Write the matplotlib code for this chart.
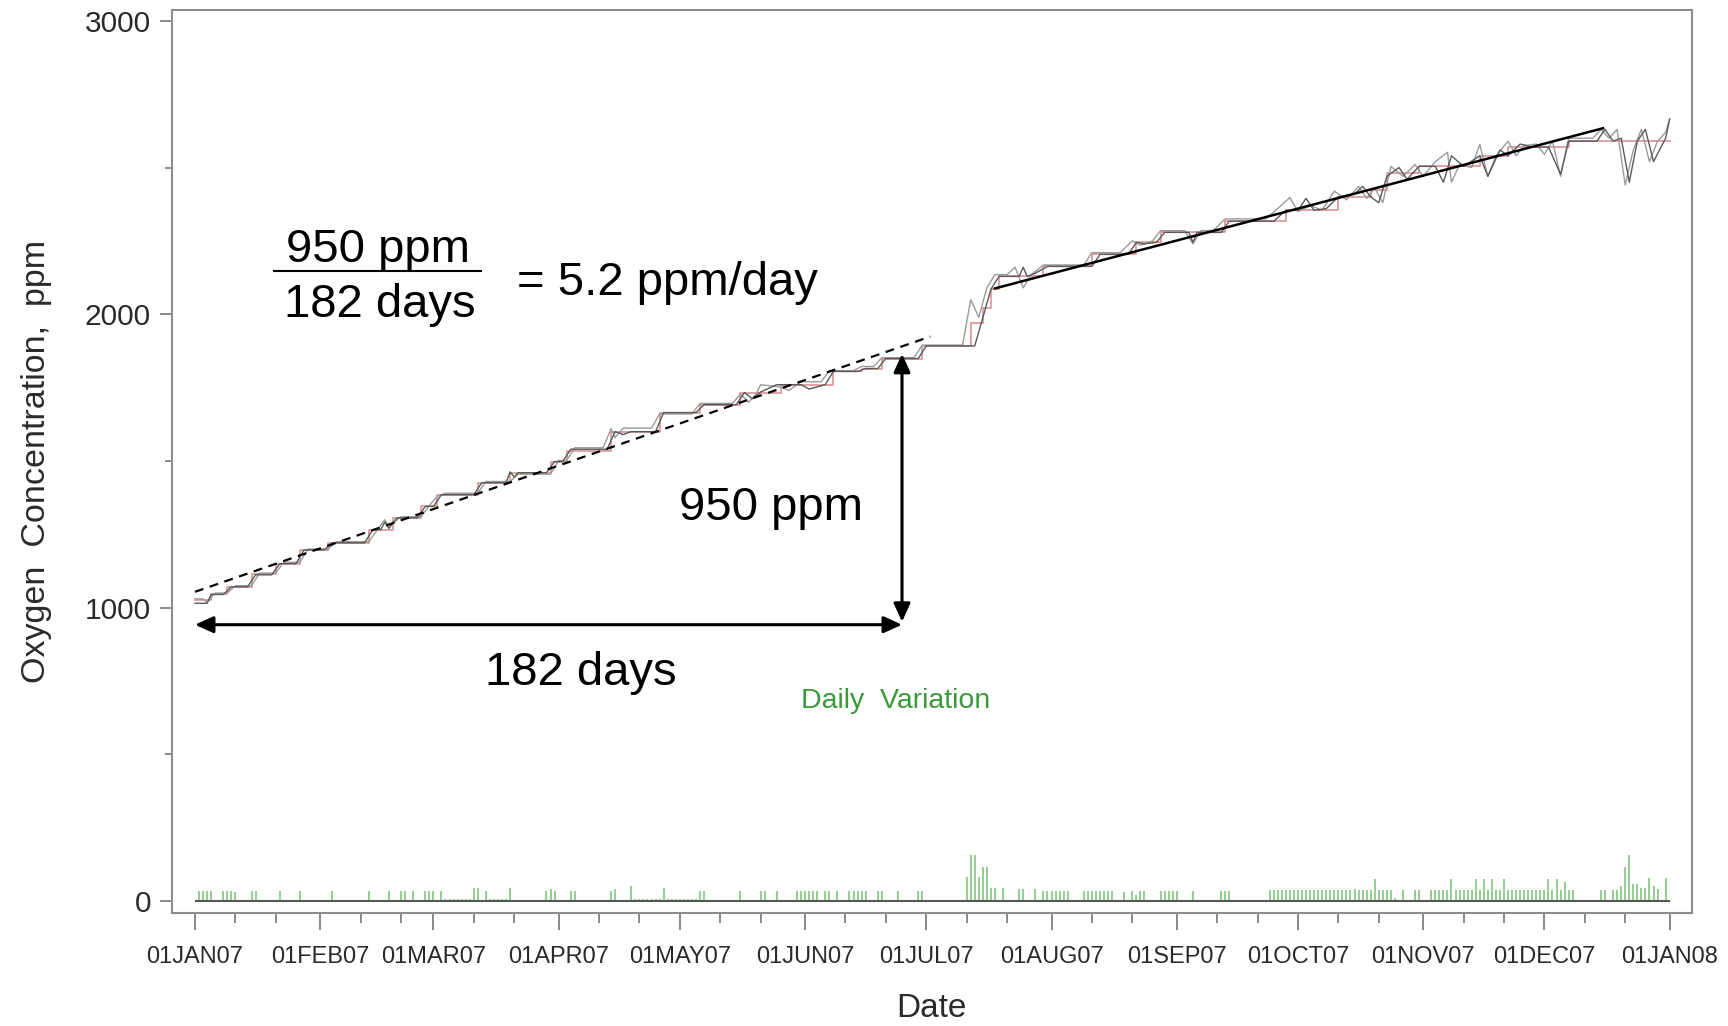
import matplotlib
matplotlib.use('Agg')
import matplotlib.pyplot as plt

# x axis: days since 01JAN07
month_starts = [0, 31, 59, 90, 120, 151, 181, 212, 243, 273, 304, 334, 365]
month_labels = ['01JAN07', '01FEB07', '01MAR07', '01APR07', '01MAY07', '01JUN07', '01JUL07',
                '01AUG07', '01SEP07', '01OCT07', '01NOV07', '01DEC07', '01JAN08']

# red series (stepped)
red_days = [0, 4, 8, 14, 20, 26, 33, 43, 49, 56, 60, 70, 78, 88, 92, 103, 115, 125, 135, 145,
            158, 165, 170, 180, 192, 195, 197, 199, 210, 222, 233, 239, 255, 270, 283, 291,
            295, 303, 318, 325, 340, 365]
red_ppm = [1025, 1047, 1071, 1115, 1150, 1197, 1221, 1266, 1306, 1345, 1385, 1426, 1460, 1498,
           1535, 1600, 1665, 1692, 1733, 1760, 1805, 1815, 1849, 1892, 1970, 2020, 2085, 2129,
           2163, 2204, 2245, 2279, 2317, 2354, 2400, 2425, 2480, 2504, 2540, 2570, 2590, 2590]

# dark grey series
black_days = [0, 3, 4, 7, 9, 13, 15, 19, 21, 25, 27, 32, 34, 42, 44, 46, 47, 48, 50, 55, 57, 59,
              61, 69, 71, 77, 78, 79, 80, 87, 89, 91, 93, 102, 104, 106, 108, 114, 116, 124, 126,
              134, 136, 138, 140, 144, 150, 152, 156, 158, 164, 166, 169, 171, 179, 181, 193,
              197, 199, 204, 205, 206, 208, 211, 222, 224, 231, 233, 235, 238, 240, 246, 247,
              248, 254, 256, 267, 270, 273, 275, 277, 280, 283, 287, 289, 291, 293, 295, 298,
              300, 303, 307, 309, 311, 314, 318, 320, 323, 325, 328, 331, 335, 338, 340, 347,
              349, 351, 353, 355, 357, 359, 361, 364, 365]
black_ppm = [1015, 1015, 1045, 1045, 1071, 1071, 1112, 1112, 1150, 1150, 1197, 1197, 1221, 1221,
             1266, 1266, 1292, 1270, 1306, 1306, 1345, 1345, 1385, 1385, 1426, 1426, 1463, 1445,
             1460, 1460, 1498, 1498, 1540, 1540, 1600, 1590, 1600, 1600, 1665, 1665, 1692, 1692,
             1733, 1712, 1735, 1760, 1760, 1745, 1760, 1805, 1805, 1815, 1815, 1849, 1849, 1892,
             1892, 2085, 2129, 2129, 2160, 2129, 2140, 2163, 2163, 2204, 2204, 2245, 2240, 2245,
             2279, 2279, 2245, 2279, 2279, 2317, 2317, 2354, 2354, 2395, 2354, 2360, 2400, 2410,
             2436, 2400, 2380, 2470, 2500, 2460, 2504, 2504, 2450, 2540, 2504, 2540, 2470, 2560,
             2540, 2580, 2570, 2570, 2477, 2590, 2590, 2630, 2590, 2600, 2450, 2590, 2630, 2520,
             2600, 2665]

# light grey series
grey_days = [0, 2, 3, 5, 8, 10, 14, 16, 20, 22, 26, 28, 33, 35, 43, 45, 47, 48, 49, 51, 56, 58,
             60, 62, 70, 72, 78, 80, 88, 90, 92, 94, 101, 103, 104, 106, 113, 115, 123, 125, 133,
             135, 137, 139, 140, 145, 147, 150, 155, 157, 163, 165, 168, 170, 178, 180, 190, 192,
             194, 196, 198, 201, 203, 205, 207, 210, 220, 222, 229, 232, 234, 237, 239, 245, 247,
             249, 252, 255, 265, 268, 271, 273, 276, 279, 282, 285, 288, 290, 292, 294, 296, 299,
             302, 304, 307, 310, 311, 313, 316, 318, 320, 322, 325, 327, 329, 332, 334, 336, 338,
             340, 346, 348, 350, 352, 354, 356, 358, 360, 362, 364, 365]
grey_ppm = [1030, 1030, 1018, 1050, 1050, 1075, 1075, 1118, 1118, 1155, 1155, 1200, 1200, 1225,
            1225, 1262, 1300, 1275, 1288, 1310, 1310, 1348, 1380, 1390, 1390, 1430, 1430, 1455,
            1455, 1502, 1502, 1545, 1545, 1610, 1580, 1612, 1612, 1660, 1660, 1696, 1696, 1728,
            1700, 1730, 1760, 1752, 1740, 1770, 1770, 1808, 1808, 1822, 1822, 1852, 1852, 1895,
            1895, 2050, 1990, 2090, 2135, 2135, 2160, 2090, 2135, 2168, 2168, 2210, 2210, 2250,
            2235, 2250, 2285, 2285, 2240, 2285, 2285, 2325, 2325, 2360, 2398, 2350, 2370, 2355,
            2420, 2390, 2436, 2395, 2430, 2380, 2504, 2470, 2510, 2470, 2520, 2552, 2450, 2510,
            2500, 2579, 2470, 2540, 2590, 2540, 2575, 2580, 2545, 2590, 2470, 2600, 2600, 2630,
            2600, 2630, 2440, 2560, 2630, 2520, 2590, 2620, 2665]

# daily variation bars
var_days = [1, 2, 3, 4, 7, 8, 9, 10, 14, 15, 21, 26, 34, 43, 48, 51, 52, 54, 57, 58, 59, 61,
            62, 63, 64, 65, 66, 67, 68, 69, 70, 72, 73, 74, 75, 76, 77, 78, 87, 88, 89, 93, 94,
            103, 104, 108, 109, 110, 111, 112, 113, 114, 115, 116, 117, 118, 119, 120, 121, 122,
            123, 124, 125, 126, 135, 140, 141, 144, 149, 150, 151, 152, 153, 154, 156, 157, 159,
            162, 163, 164, 165, 166, 169, 170, 174, 179, 180,
            191, 192, 193, 194, 195, 196, 197, 198, 200, 204, 205, 208, 210, 211, 212, 213, 214,
            215, 216, 220, 221, 222, 223, 224, 225, 226, 227, 230, 232, 233, 234, 235, 239, 240,
            241, 242, 243, 247, 254, 255, 256,
            266, 267, 268, 269, 270, 271, 272, 273, 274, 275, 276, 277, 278, 279, 280, 281, 282,
            283, 284, 285, 286, 287, 288, 289, 290, 291, 292, 293, 294, 295, 296, 297, 299, 302,
            303, 306, 307, 308, 309, 310, 311, 312, 313, 314, 315, 316, 317, 318, 319, 320, 321,
            322, 323, 324, 325, 326, 327, 328, 329, 330, 331, 332, 333, 334, 335, 336, 337, 338,
            339, 340, 341, 348, 349, 351, 352, 353, 354, 355, 356, 357, 358, 359, 360, 361, 362,
            364]
var_ppm = [35, 35, 35, 35, 35, 35, 35, 30, 35, 35, 35, 35, 35, 35, 35, 35, 35, 35, 35, 35, 35, 35,
           6, 6, 6, 6, 6, 6, 6, 45, 45, 35, 6, 6, 6, 6, 6, 45, 35, 40, 35, 35, 35,
           35, 40, 50, 6, 6, 6, 6, 6, 6, 6, 45, 6, 6, 6, 6, 6, 6,
           6, 6, 35, 35, 35, 35, 35, 35, 35, 35, 35, 35, 35, 35, 35, 35, 35,
           35, 35, 35, 35, 35, 35, 35, 35, 35, 35,
           83, 157, 157, 83, 117, 117, 43, 43, 43, 40, 40, 40, 35, 35, 35, 35, 35,
           35, 35, 35, 35, 35, 35, 35, 35, 35, 35, 30, 35, 20, 35, 35, 35, 35,
           35, 35, 35, 35, 35, 35, 35,
           37, 37, 37, 37, 37, 37, 37, 37, 37, 37, 37, 37, 37, 37, 37, 37, 37,
           37, 37, 37, 37, 40, 37, 37, 37, 37, 77, 37, 37, 37, 37, 10, 37, 37,
           37, 37, 37, 37, 37, 37, 75, 37, 37, 37, 37, 37, 75, 37, 75, 37, 75,
           37, 37, 75, 37, 37, 37, 37, 37, 37, 37, 37, 37, 37, 75, 37, 75, 37,
           65, 37, 37, 37, 37, 37, 37, 50, 117, 157, 60, 60, 45, 45, 80, 50, 40,
           80]

# annotation geometry (days, ppm)
trend1_days = [0, 182]
trend1_ppm = [1054, 1924]
trend2_days = [198, 348.5]
trend2_ppm = [2088, 2634]
span_ppm = 942
span_end_day = 175
rise_top_ppm = 1865

label_font = ['Liberation Sans Narrow', 'Liberation Sans', 'DejaVu Sans']
big_font = ['Liberation Sans', 'DejaVu Sans']

fig = plt.figure(figsize=(17.28, 10.26), dpi=100)
ax = fig.add_axes([0.0995, 0.110, 0.8796, 0.880])

ax.vlines(var_days, 0, var_ppm, color='#80c680', lw=1.2)
ax.hlines(0, month_starts[0], month_starts[-1], color='#555555', lw=1.5)

ax.step(red_days, red_ppm, where='post', color='#d99494', lw=1.2)
ax.plot(grey_days, grey_ppm, color='#9a9a9a', lw=1.0)
ax.plot(black_days, black_ppm, color='#5a5a5a', lw=1.0)

ax.plot(trend1_days, trend1_ppm, color='black', lw=1.6, ls=(0, (4, 3)))
ax.plot(trend2_days, trend2_ppm, color='black', lw=1.8)

arrow = dict(arrowstyle='<|-|>,head_length=0.55,head_width=0.25', color='black', lw=2.2,
             shrinkA=0, shrinkB=0, mutation_scale=20)
ax.annotate('', xy=(0, span_ppm), xytext=(span_end_day, span_ppm), arrowprops=arrow)
ax.annotate('', xy=(span_end_day, span_ppm + 10), xytext=(span_end_day, rise_top_ppm),
            arrowprops=arrow)

ax.text(45.3, 2218, '950 ppm', ha='center', va='center', fontsize=34, family=big_font)
ax.hlines(2146, 19.3, 71, color='black', lw=1.5)
ax.text(45.8, 2030, '182 days', ha='center', va='center', fontsize=34, family=big_font)
ax.text(117, 2105, '= 5.2 ppm/day', ha='center', va='center', fontsize=34, family=big_font)
ax.text(142.6, 1341, '950 ppm', ha='center', va='center', fontsize=34, family=big_font)
ax.text(95.5, 778, '182 days', ha='center', va='center', fontsize=34, family=big_font)
ax.text(173.3, 682, 'Daily  Variation', ha='center', va='center', fontsize=20.5,
        color='#3a9a3a', family=label_font)

ax.set_xlim(-5.7, 370.5)
ax.set_ylim(-41, 3036)
ax.set_xticks(month_starts, month_labels)
ax.set_xticks([m + 10 for m in month_starts[:-1]] + [m + 20 for m in month_starts[:-1]], minor=True)
ax.set_yticks([0, 1000, 2000, 3000], ['0', '1000', '2000', '3000'])
ax.set_yticks([500, 1500, 2500], minor=True)

for lab in ax.get_xticklabels() + ax.get_yticklabels():
    lab.set_family(label_font)
ax.tick_params(axis='x', which='major', length=12, width=1.3, color='#808080', pad=12,
               labelsize=17, labelcolor='#2a2a2a')
ax.tick_params(axis='x', which='minor', length=7, width=1.3, color='#808080')
ax.tick_params(axis='y', which='major', length=9, width=1.3, color='#808080', pad=6,
               labelsize=21.5, labelcolor='#2a2a2a')
ax.tick_params(axis='y', which='minor', length=5, width=1.3, color='#808080')
for sp in ax.spines.values():
    sp.set_color('#8c8c8c')
    sp.set_linewidth(1.5)

ax.set_ylabel('Oxygen  Concentration,  ppm', fontsize=24.5, color='#2a2a2a', family=label_font)
ax.yaxis.set_label_coords(-0.079, 0.5)
ax.set_xlabel('Date', fontsize=24, color='#2a2a2a', family=label_font)
ax.xaxis.set_label_coords(0.5, -0.088)

fig.savefig('out.png', dpi=100)
